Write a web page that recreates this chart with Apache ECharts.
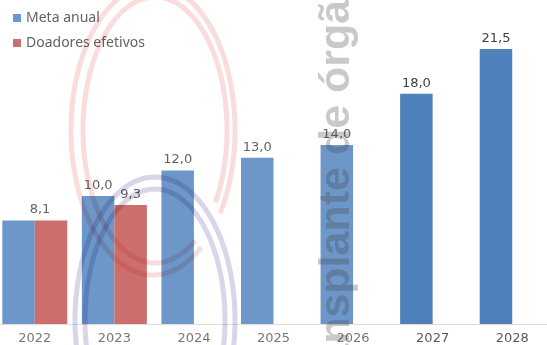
<!DOCTYPE html>
<html><head><meta charset="utf-8">
<script src="https://cdn.jsdelivr.net/npm/echarts@6/dist/echarts.min.js"></script>
<style>html,body{margin:0;padding:0;background:#fff;overflow:hidden}#c{position:absolute;left:-5px;top:0;width:557px;height:345px}</style>
</head><body><div id="c"></div>
<script>
const categories = ['2022', '2023', '2024', '2025', '2026', '2027', '2028'];
const metaAnual = [8.1, 10.0, 12.0, 13.0, 14.0, 18.0, 21.5];
const doadoresEfetivos = [8.1, 9.3, null, null, null, null, null];
const seriesNames = ['Meta anual', 'Doadores efetivos'];
const watermarkText = 'Transplante de órgãos';

const fmt = v => v.toFixed(1).replace('.', ',');
const OX = 5; // canvas is shifted 5px left of the page

function arcPts(cx, cy, rx, ry, a0, a1) {
  const pts = [], r = Math.PI / 180, n = 120;
  for (let k = 0; k <= n; k++) {
    const a = (a0 + (a1 - a0) * k / n) * r;
    pts.push([OX + cx + rx * Math.cos(a), cy + ry * Math.sin(a)]);
  }
  return pts;
}

const ringRed = 'rgba(225,50,50,0.17)';
const ringPurple = 'rgba(60,50,140,0.2)';
const ring = (pts, color) => ({type: 'polyline', z: 101, silent: true, shape: {points: pts},
  style: {fill: null, stroke: color, lineWidth: 5, blend: 'multiply'}});

const chart = echarts.init(document.getElementById('c'), null, {renderer: 'canvas'});
chart.setOption({
  animation: false,
  backgroundColor: '#ffffff',
  legend: {
    orient: 'vertical', left: 8 + OX, top: 6, itemWidth: 8, itemHeight: 8, itemGap: 11,
    icon: 'rect',
    textStyle: {color: '#404040', fontSize: 14, fontFamily: 'Noto Sans'},
    data: seriesNames
  },
  grid: {left: 0, right: 0, top: 4.25, bottom: 20},
  xAxis: {
    type: 'category', data: categories,
    axisLine: {lineStyle: {color: '#d9d9d9'}},
    axisTick: {show: false},
    axisLabel: {color: '#595959', fontSize: 13, fontFamily: 'DejaVu Sans', margin: 8}
  },
  yAxis: {type: 'value', min: 0, max: 25, show: false, splitLine: {show: false}},
  series: [
    {
      name: seriesNames[0], type: 'bar', barWidth: 32.5, barGap: '0%',
      itemStyle: {color: '#4f81bd'},
      label: {show: true, position: 'top', distance: 4, color: '#404040', fontSize: 13, fontFamily: 'DejaVu Sans', formatter: p => fmt(p.value)},
      data: metaAnual.map((v, i) => i === 0 ? {value: v, label: {show: false}} : v)
    },
    {
      name: seriesNames[1], type: 'bar', barWidth: 32.5, barGap: '0%',
      itemStyle: {color: '#c0504d'},
      label: {show: true, position: 'top', distance: 4, color: '#404040', fontSize: 13, fontFamily: 'DejaVu Sans', formatter: p => fmt(p.value)},
      data: doadoresEfetivos.map((v, i) => i === 0 ? {value: v, label: {offset: [-11, 0]}} : v)
    }
  ],
  graphic: [
    {type: 'rect', z: 100, silent: true, shape: {x: 0, y: 0, width: 372 + OX, height: 345}, style: {fill: 'rgba(255,255,255,0.18)'}},
    ring(arcPts(153, 130, 82, 145, 54, 395), ringRed),
    ring(arcPts(155, 130, 72, 133, 56, 393), ringRed),
    ring(arcPts(155, 320, 80, 143, 0, 360), ringPurple),
    ring(arcPts(155, 320, 70, 131, 0, 360), ringPurple),
    {type: 'text', z: 102, silent: true, x: 337 + OX, y: 179, rotation: Math.PI / 2,
      style: {text: watermarkText, x: 0, y: 0, align: 'center', verticalAlign: 'middle', fill: 'rgba(60,60,60,0.28)', font: 'bold 43px "Liberation Sans"', blend: 'multiply'}}
  ]
});
</script></body></html>
